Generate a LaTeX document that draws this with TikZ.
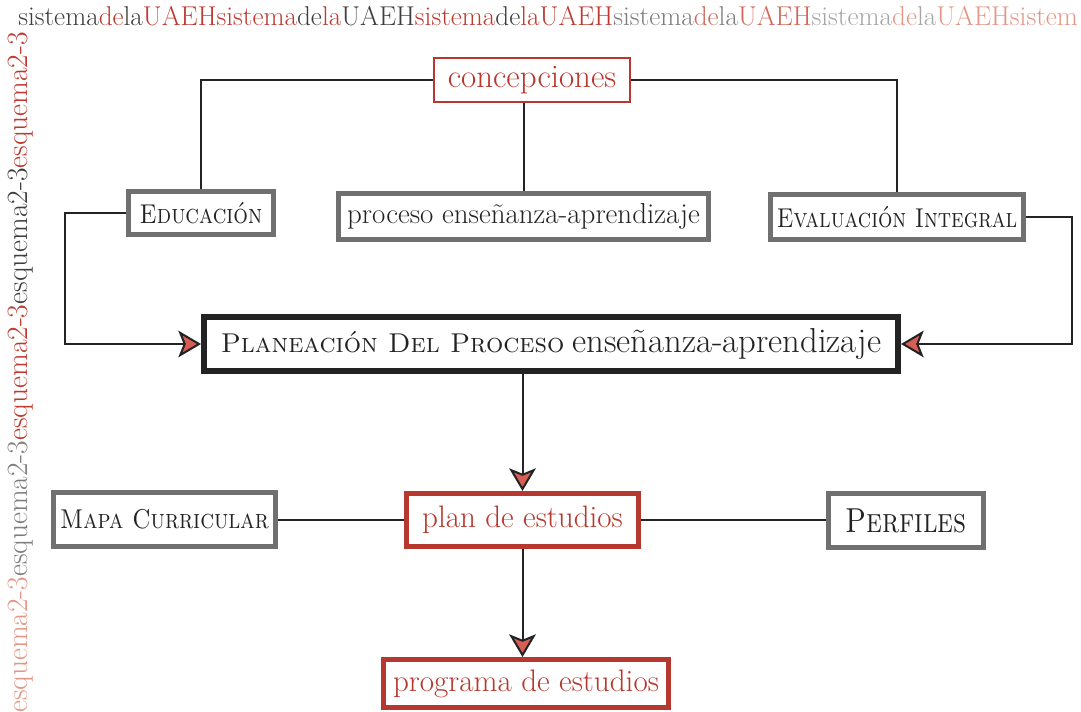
\documentclass[tikz,border=0pt]{standalone}
\usepackage{tikz}
\usepackage{graphicx}
\usetikzlibrary{arrows.meta}
\definecolor{uaehRed}{RGB}{183,56,46}
\definecolor{boxGray}{RGB}{112,112,112}
\definecolor{arrowRed}{RGB}{214,94,84}
\definecolor{inkColor}{RGB}{35,35,35}
\definecolor{markDark}{RGB}{62,62,62}
\definecolor{markRed}{RGB}{190,58,48}
\definecolor{markGray}{RGB}{125,125,125}
\definecolor{markRedMid}{RGB}{208,104,90}
\definecolor{markLight}{RGB}{165,165,165}
\definecolor{markRedLight}{RGB}{228,150,132}
\newcommand{\pxUnit}{0.75pt}
\tikzstyle{schema} = [x=\pxUnit, y=-\pxUnit]
\tikzstyle{boxStyle} = [draw, fill=white, inner sep=0pt, text=inkColor]
\tikzstyle{grayBox} = [boxStyle, draw=boxGray, line width=3.75pt]
\tikzstyle{redBox} = [boxStyle, draw=uaehRed, line width=3.75pt, text=uaehRed, font=\fontsize{23.3}{27}\selectfont]
\tikzstyle{thinRedBox} = [redBox, line width=1.9pt, font=\fontsize{24.7}{29}\selectfont]
\tikzstyle{blackBox} = [boxStyle, draw=inkColor, line width=4.5pt]
\tikzstyle{linkLine} = [draw=inkColor, line width=1.5pt]
\tikzstyle{linkArrow} = [linkLine, -{Stealth[length=17pt, width=20pt, inset=4pt, fill=arrowRed]}]
\tikzstyle{capsText} = [font=\fontsize{20.4}{24}\selectfont]
\tikzstyle{markText} = [anchor=base west, inner sep=0pt]
\tikzset{boxSize/.style 2 args={minimum width=#1*\pxUnit, minimum height=#2*\pxUnit}}
\newcommand{\markWords}[4]{\textcolor{#1}{sistema}\textcolor{#2}{de}\textcolor{#3}{la}\textcolor{#4}{UAEH}}
\newcommand{\narrowCaps}[2]{\scalebox{#1}[1]{\scshape #2}}

\begin{document}
\begin{tikzpicture}[schema]
  \useasboundingbox (0,0) rectangle (1081,711);

  % watermark along the top and the left side
  \node[markText, font=\fontsize{20.4}{24}\selectfont] (topMark) at (18,25)
    {\markWords{markDark}{markRed}{markDark}{markRed}\markWords{markRed}{markDark}{markRed}{markDark}\markWords{markRed}{markDark}{markRed}{markRed}\markWords{markGray}{markRedMid}{markGray}{markRedMid}\markWords{markLight}{markRedLight}{markLight}{markRedLight}\textcolor{markRedLight}{sistem}};
  \node[markText, rotate=90, font=\fontsize{22.1}{26}\selectfont] (sideMark) at (27,713)
    {\textcolor{markRedLight}{esquema2-3}\textcolor{markGray}{esquema2-3}\textcolor{markRed}{esquema2-3}\textcolor{markDark}{esquema2-3}\textcolor{markRed}{esquema2-3}};

  % boxes
  \node[thinRedBox, boxSize={196}{44}] (concepciones) at (532,80) {concepciones};
  \node[grayBox, capsText, boxSize={145}{43}] (educacion) at (201,213) {\narrowCaps{0.85}{Educación}};
  \node[grayBox, boxSize={370}{46}, font=\fontsize{21.7}{26}\selectfont] (proceso) at (523.5,216.5) {proceso enseñanza-aprendizaje};
  \node[grayBox, capsText, boxSize={253}{45}] (evaluacion) at (897,217) {\narrowCaps{0.83}{Evaluación Integral}};
  \node[blackBox, boxSize={694}{54}] (planeacion) at (551,344)
    {\fontsize{20.4}{25}\selectfont\textsc{Planeación Del Proceso} \fontsize{26}{30}\selectfont enseñanza-aprendizaje};
  \node[grayBox, capsText, boxSize={222}{54}] (mapa) at (164.5,519.5) {\narrowCaps{0.86}{Mapa Curricular}};
  \node[redBox, boxSize={232}{53}] (plan) at (522.5,520) {plan de estudios};
  \node[grayBox, boxSize={155}{54}, font=\fontsize{26}{30}\selectfont] (perfiles) at (906,520.5) {\narrowCaps{0.82}{Perfiles}};
  \node[redBox, boxSize={285}{48}] (programa) at (526,683.5) {programa de estudios};

  % connectors
  \coordinate (leftTurn) at (65,344);
  \coordinate (rightTurn) at (1072,344);
  \draw[linkLine] (concepciones.west) -| (educacion.north);
  \draw[linkLine] (concepciones.east) -| (evaluacion.north);
  \draw[linkLine] (proceso.north |- concepciones.south) -- (proceso.north);
  \draw[linkArrow] (educacion.west) -| (leftTurn) -- (planeacion.west);
  \draw[linkArrow] (evaluacion.east) -| (rightTurn) -- (planeacion.east);
  \draw[linkArrow] (planeacion.south -| plan.north) -- (plan.north);
  \draw[linkArrow] (plan.south) -- (plan.south |- programa.north);
  \draw[linkLine] (mapa.east) -- (mapa.east -| plan.west);
  \draw[linkLine] (plan.east) -- (plan.east -| perfiles.west);
\end{tikzpicture}
\end{document}
